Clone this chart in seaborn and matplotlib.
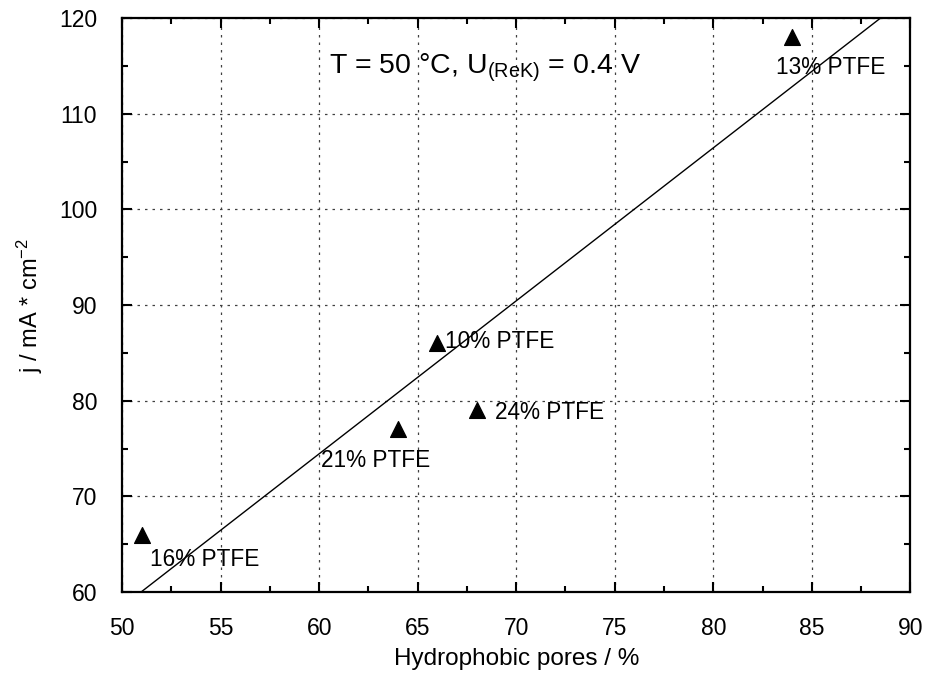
import matplotlib
matplotlib.use("Agg")
import matplotlib.pyplot as plt
from matplotlib.ticker import MultipleLocator
import pandas as pd
import seaborn as sns

# measured points
pores = [51, 64, 66, 68, 84]
current = [66, 77, 86, 79, 118]
labels = ["16% PTFE", "21% PTFE", "10% PTFE", "24% PTFE", "13% PTFE"]
# label anchor (left, centre) in data coords
label_x = [51.4, 60.1, 66.4, 68.9, 83.2]
label_y = [63.4, 73.8, 86.2, 78.8, 114.8]

# linear fit line end points
fit_x = [50.96, 88.48]
fit_y = [60, 120]

sns.set_style("ticks")
plt.rcParams['font.family'] = ['Liberation Sans', 'DejaVu Sans']
plt.rcParams['mathtext.default'] = 'regular'
plt.rcParams['text.color'] = 'black'
plt.rcParams['axes.labelcolor'] = 'black'
plt.rcParams['xtick.color'] = 'black'
plt.rcParams['ytick.color'] = 'black'
plt.rcParams['axes.edgecolor'] = 'black'

df = pd.DataFrame({"pores": pores, "j": current})
fit = pd.DataFrame({"x": fit_x, "y": fit_y})

fig = plt.figure(figsize=(9.26, 6.75), dpi=100)
ax = fig.add_axes([0.132, 0.123, 0.851, 0.850])

sns.lineplot(data=fit, x="x", y="y", ax=ax, color="black", lw=1.0)
sns.scatterplot(data=df, x="pores", y="j", ax=ax, marker="^", s=130,
                color="black", edgecolor="black", zorder=3)

for lx, ly, t in zip(label_x, label_y, labels):
    ax.text(lx, ly, t, fontsize=16.3, ha="left", va="center")

ax.text(60.5, 114.8, r"T = 50 °C, U$_{(ReK)}$ = 0.4 V", fontsize=20.5,
        ha="left", va="center")

ax.set_xlim(50, 90)
ax.set_ylim(60, 120)
ax.xaxis.set_major_locator(MultipleLocator(5))
ax.xaxis.set_minor_locator(MultipleLocator(2.5))
ax.yaxis.set_major_locator(MultipleLocator(10))
ax.yaxis.set_minor_locator(MultipleLocator(5))

ax.grid(True, which="major", color="0.25", linestyle=(0, (2, 4)), lw=0.9)
ax.tick_params(which="both", direction="in", top=True, right=True,
               width=1.5, labelsize=16.5)
ax.tick_params(which="major", length=7, pad=18)
ax.tick_params(which="minor", length=4)
for s in ax.spines.values():
    s.set_linewidth(1.6)
    s.set_visible(True)

ax.set_xlabel("Hydrophobic pores / %", fontsize=17.5, labelpad=6)
ax.set_ylabel(r"j / mA * cm$^{-2}$", fontsize=17, labelpad=10)

fig.savefig("out.png", dpi=100)
